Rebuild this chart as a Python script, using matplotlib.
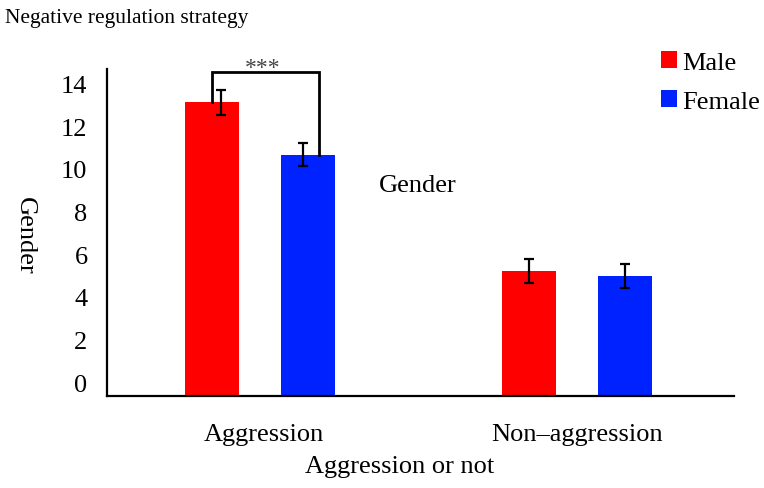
import numpy as np
import matplotlib
matplotlib.use("Agg")
import matplotlib.pyplot as plt

# Data
categories = ["Aggression", "Non\u2013aggression"]
groups = ["Male", "Female"]
male_means = [13.13, 5.20]
female_means = [10.67, 4.99]
male_err = [0.59, 0.56]
female_err = [0.54, 0.56]
colors = ["#FF0000", "#0022FF"]

plt.rcParams["font.family"] = ["Liberation Serif", "DejaVu Serif"]

fig = plt.figure(figsize=(7.64, 4.89), dpi=100)
ax = fig.add_axes([0.140, 0.189, 0.821, 0.668])

base = -0.63  # value axis starts slightly below the 0 label
x = np.arange(len(categories))
width = 0.172
offset = 0.153
fs = 19
shift = np.array([-0.012, 0.0])      # aggression group sits a touch left
err_shift = [np.array([0.028, 0.0]), np.array([-0.016, 0.0])]

for i, (vals, errs) in enumerate([(male_means, male_err), (female_means, female_err)]):
    pos = x + (i * 2 - 1) * offset + shift
    vals = np.array(vals)
    ax.bar(pos, vals - base, width, bottom=base, color=colors[i], label=groups[i])
    ax.errorbar(pos + err_shift[i], vals, yerr=errs, fmt="none", ecolor="black",
                elinewidth=1.6, capsize=3.5, capthick=1.6)

# significance bracket between the two Aggression bars
left_x = x[0] - offset - 0.012
right_x = x[0] + offset + 0.023
top_y = 14.55
ax.plot([left_x, left_x, right_x, right_x],
        [male_means[0], top_y, top_y, female_means[0]],
        color="black", lw=2, solid_joinstyle="miter")
ax.text((left_x + right_x) / 2 - 0.01, top_y + 0.2, "***", ha="center", va="center",
        fontsize=17, color="#444444")

ax.set_xlim(-0.5, 1.5)
ax.set_ylim(base, 14.69)
ax.set_yticks(np.arange(0, 15, 2))
ax.set_xticks(x)
ax.set_xticklabels(categories)
ax.tick_params(axis="both", length=0, labelsize=fs)
ax.tick_params(axis="y", pad=14)
ax.tick_params(axis="x", pad=20)

for s in ["top", "right"]:
    ax.spines[s].set_visible(False)
for s in ["left", "bottom"]:
    ax.spines[s].set_linewidth(1.6)
    ax.spines[s].set_color("black")

fig.text(0.006, 0.963, "Negative regulation strategy", fontsize=15.5, va="center", ha="left")
fig.text(25 / 764, 1 - 236 / 489, "Gender", rotation=270, fontsize=fs, va="center", ha="center")
fig.text(400 / 764, 1 - 467 / 489, "Aggression or not", fontsize=fs, va="center", ha="center")
fig.text(418 / 764, 1 - 186 / 489, "Gender", fontsize=fs, va="center", ha="center")

leg = ax.legend(loc="upper left", bbox_to_anchor=(0.883, 1.054), frameon=False,
                fontsize=fs, handlelength=0.6, handleheight=0.6, handletextpad=0.2,
                labelspacing=0.62, borderaxespad=0, borderpad=0)

fig.savefig("out.png", dpi=100)
